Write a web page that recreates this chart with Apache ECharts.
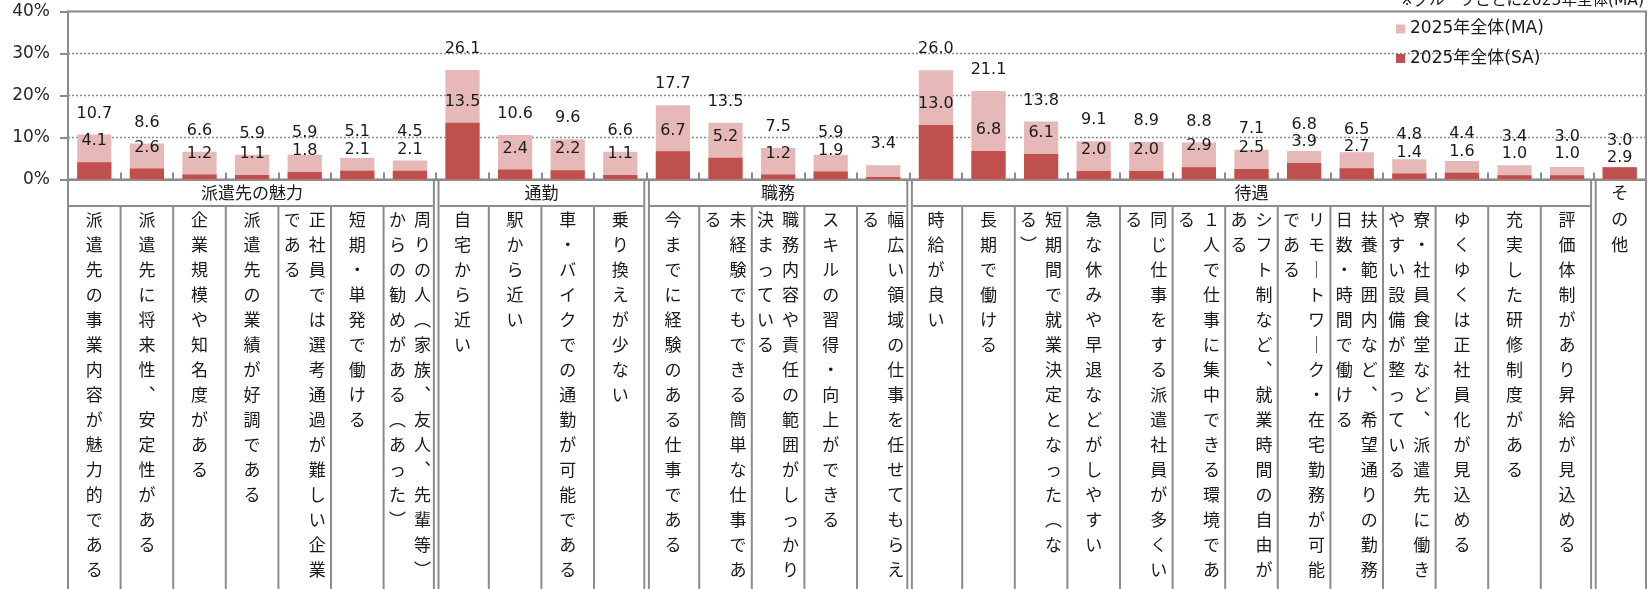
<!DOCTYPE html>
<html><head><meta charset="utf-8">
<script src="https://cdn.jsdelivr.net/npm/echarts@6/dist/echarts.min.js"></script>
<style>html,body{margin:0;padding:0;background:#fff}#c{width:1649px;height:589px}</style>
</head><body><div id="c"></div>
<script>
const categories = [
  '派遣先の事業内容が魅力的である','派遣先に将来性、安定性がある','企業規模や知名度がある','派遣先の業績が好調である',
  '正社員では選考通過が難しい企業である','短期・単発で働ける','周りの人（家族、友人、先輩等）からの勧めがある（あった）',
  '自宅から近い','駅から近い','車・バイクでの通勤が可能である','乗り換えが少ない',
  '今までに経験のある仕事である','未経験でもできる簡単な仕事である','職務内容や責任の範囲がしっかり決まっている',
  'スキルの習得・向上ができる','幅広い領域の仕事を任せてもらえる',
  '時給が良い','長期で働ける','短期間で就業決定となった（なる）','急な休みや早退などがしやすい',
  '同じ仕事をする派遣社員が多くいる','１人で仕事に集中できる環境である','シフト制など、就業時間の自由がある',
  'リモートワーク・在宅勤務が可能である','扶養範囲内など、希望通りの勤務日数・時間で働ける',
  '寮・社員食堂など、派遣先に働きやすい設備が整っている','ゆくゆくは正社員化が見込める','充実した研修制度がある',
  '評価体制があり昇給が見込める',
  'その他'
];
const groupNames = ['派遣先の魅力','通勤','職務','待遇','その他'];
const groupSizes = [7, 4, 5, 13, 1];
const valuesMA = [10.7,8.6,6.6,5.9,5.9,5.1,4.5, 26.1,10.6,9.6,6.6, 17.7,13.5,7.5,5.9,3.4,
  26.0,21.1,13.8,9.1,8.9,8.8,7.1,6.8,6.5,4.8,4.4,3.4,3.0, 3.0];
const valuesSA = [4.1,2.6,1.2,1.1,1.8,2.1,2.1, 13.5,2.4,2.2,1.1, 6.7,5.2,1.2,1.9,0.6,
  13.0,6.8,6.1,2.0,2.0,2.9,2.5,3.9,2.7,1.4,1.6,1.0,1.0, 2.9];
const hiddenSALabels = [15];
const seriesNames = ['2025年全体(MA)', '2025年全体(SA)'];
const yTickValues = [0, 10, 20, 30, 40];
const noteText = '※グループごとに2025年全体(MA)';

const GRAY = '#8c8c8c';
const TXT = '#1a1a1a';
const LATIN = "'DejaVu Sans','Noto Sans CJK JP',sans-serif";
const CJK = "'Noto Sans CJK JP',sans-serif";
const GRID = {left: 68, right: 3, top: 11.5, bottom: 409.5};
const N = categories.length;
const band = (1649 - GRID.left - GRID.right) / N;
const YMAX = yTickValues[yTickValues.length - 1];
const PX = (589 - GRID.top - GRID.bottom) / YMAX;   // pixels per percent
const LABEL_FS = 16, LABEL_LH = 18;

const groupOf = [], groupStart = [];
(function(){ let k = 0; groupSizes.forEach((s, g) => { groupStart.push(k); for (let i = 0; i < s; i++) groupOf.push(g); k += s; }); })();

const VMAP = {'（':'︵','）':'︶','、':'︑','ー':'｜'};
function vertLabel(name) {
  const orig = Array.from(name);
  const chars = orig.map(c => VMAP[c] || c);
  const CAP = 15;
  let n = Math.min(CAP, chars.length);
  if (chars.length > CAP && '）、。'.includes(orig[CAP])) n = CAP - 1;
  const c1 = chars.slice(0, n), c2 = chars.slice(n);
  return c1.map((ch, i) => c2.length ? `{c|${c2[i] || '　'}}{c|${ch}}` : `{c|${ch}}`).join('\n');
}
function catLabel(value, idx) {
  if (groupSizes[groupOf[idx]] === 1) return '';
  return vertLabel(value);
}
function groupLabel(value, idx) {
  const g = groupOf[idx], s = groupSizes[g], st = groupStart[g], name = groupNames[g];
  if (s === 1) return Array.from(name).map(c => `{g|${c}}`).join('\n');
  const mid = st + Math.floor((s - 1) / 2);
  if (idx !== mid) return '';
  return s % 2 === 0 ? `{gs|${name}}` : `{g|${name}}`;
}

// label placement (label centre in % units above the bar top), with simple collision avoidance
const OFF = 5.0, MINGAP = 4.2, NEAR = 1.0, DROP = 2.2;
const maItems = [], saItems = [];
valuesMA.forEach((m, i) => {
  const s = valuesSA[i];
  const hideSA = hiddenSALabels.includes(i);
  let sc = s + OFF, mc = m + OFF;
  if (!hideSA && mc - sc < MINGAP) {
    if (mc - sc < NEAR) sc = s + DROP;
    mc = Math.max(mc, sc + MINGAP);
  }
  maItems.push({value: m, label: {distance: (mc - m) * PX - LABEL_LH / 2}});
  saItems.push(hideSA ? {value: s, label: {show: false}} : {value: s, label: {distance: (sc - s) * PX - LABEL_LH / 2}});
});

const chart = echarts.init(document.getElementById('c'), null, {renderer: 'canvas'});
const barLabel = {show: true, position: 'top', fontSize: LABEL_FS, lineHeight: LABEL_LH, color: TXT, fontFamily: LATIN,
  formatter: p => Number(p.value).toFixed(1)};

chart.setOption({
  animation: false,
  backgroundColor: '#fff',
  grid: Object.assign({show: true, borderColor: GRAY, borderWidth: 2, backgroundColor: 'transparent'}, GRID),
  legend: {orient: 'vertical', left: 1391, top: 14, itemWidth: 9, itemHeight: 9, itemGap: 9.5, icon: 'rect',
    textStyle: {fontSize: 17, lineHeight: 20, color: TXT, fontFamily: LATIN}, data: seriesNames},
  xAxis: [
    {type: 'category', data: categories, position: 'bottom',
      axisLine: {show: true, lineStyle: {color: GRAY, width: 2}},
      axisTick: {show: true, inside: true, length: 7, interval: 0, lineStyle: {color: GRAY, width: 2}},
      axisLabel: {interval: 0, margin: 28, formatter: catLabel, lineHeight: 25,
        rich: {c: {fontSize: 17, width: 25, height: 25, lineHeight: 25, align: 'center', fontFamily: CJK, color: TXT}}},
      splitLine: {show: false}},
    {type: 'category', data: categories, position: 'bottom',
      axisLine: {show: false}, axisTick: {show: false}, splitLine: {show: false},
      axisLabel: {interval: 0, margin: 0.5, formatter: groupLabel, lineHeight: 26,
        rich: {g: {fontSize: 17, lineHeight: 26, fontFamily: CJK, color: TXT},
               gs: {fontSize: 17, lineHeight: 26, fontFamily: CJK, color: TXT, padding: [0, 0, 0, band]}}}}
  ],
  yAxis: {type: 'value', min: yTickValues[0], max: YMAX, interval: yTickValues[1] - yTickValues[0],
    axisLine: {show: true, lineStyle: {color: GRAY, width: 2}},
    axisTick: {show: true, length: 8, lineStyle: {color: GRAY, width: 2}},
    axisLabel: {formatter: '{value}%', fontSize: 17, color: '#262626', margin: 18, fontFamily: LATIN},
    splitLine: {show: true, lineStyle: {color: GRAY, type: [2, 2], width: 1.3}}},
  series: [
    {name: seriesNames[0], type: 'bar', data: maItems, barCategoryGap: '35%', barGap: '-100%',
      itemStyle: {color: '#E6B9B8'}, label: barLabel},
    {name: seriesNames[1], type: 'bar', data: saItems, barCategoryGap: '35%', barGap: '-100%',
      itemStyle: {color: '#C0504D'}, label: barLabel}
  ]
});

function buildTable() {
  const xc = i => chart.convertToPixel({xAxisIndex: 0}, i);
  const bw = xc(1) - xc(0);
  const L = xc(0) - bw / 2, R = xc(N - 1) + bw / 2;
  const bnd = i => i === 0 ? L : (i === N ? R : (xc(i - 1) + xc(i)) / 2);
  const y0 = chart.convertToPixel({yAxisIndex: 0}, 0);
  const H = chart.getHeight();
  const rowY = y0 + 26.5;
  const els = [];
  const line = (x1, y1, x2, y2) => els.push({type: 'line', silent: true, z: 100,
    shape: {x1, y1, x2, y2}, style: {stroke: GRAY, lineWidth: 2}});
  line(L, y0, L, H);
  line(R, y0, R, H);
  const starts = new Set(groupStart);
  for (let i = 1; i < N; i++) {
    const b = bnd(i);
    if (starts.has(i)) { line(b - 2.3, y0, b - 2.3, H); line(b + 2.3, y0, b + 2.3, H); }
    else line(b, rowY, b, H);
  }
  groupSizes.forEach((s, g) => {
    if (s === 1) return;
    const st = groupStart[g], en = st + s;
    const a = st === 0 ? L : bnd(st) + 3.3;
    const b = en === N ? R : bnd(en) - 3.3;
    line(a, rowY, b, rowY);
  });
  els.push({type: 'text', silent: true, z: 100, x: R - 2, y: 9,
    style: {text: noteText, align: 'right', verticalAlign: 'bottom',
      textAlign: 'right', textVerticalAlign: 'bottom',
      fontSize: 15.5, fontFamily: LATIN, fill: TXT}});
  chart.setOption({graphic: els});
}
buildTable();
</script>
</body></html>
